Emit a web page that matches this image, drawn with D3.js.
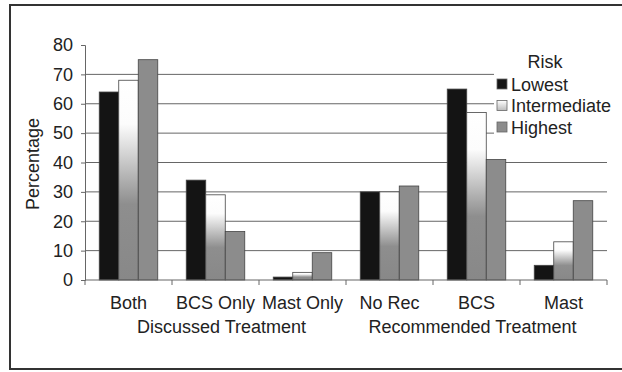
<!DOCTYPE html>
<html><head><meta charset="utf-8">
<script src="https://cdn.jsdelivr.net/npm/d3@7"></script>
<style>
html,body{margin:0;padding:0;background:#fff;}
svg{display:block;font-family:"Liberation Sans",Arial,sans-serif;}
</style></head>
<body>
<svg id="chart" width="622" height="372"></svg>
<script>
const categories = ["Both","BCS Only","Mast Only","No Rec","BCS","Mast"];
const groupTitles = ["Discussed Treatment","Recommended Treatment"];
const seriesNames = ["Lowest","Intermediate","Highest"];
const lowest = [64, 34, 1, 30, 65, 5];
const intermediate = [68, 29, 2.6, 30, 57, 13];
const highest = [75, 16.5, 9.3, 32, 41, 27];
const yTicks = [0,10,20,30,40,50,60,70,80];
const legendTitle = "Risk";
const yTitle = "Percentage";

(function(){
const series = [lowest, intermediate, highest];
const svg = d3.select("#chart");
const defs = svg.append("defs");
const g1 = defs.append("linearGradient").attr("id","gInt").attr("x1",0).attr("y1",0).attr("x2",0).attr("y2",1);
g1.append("stop").attr("offset","0%").attr("stop-color","#ffffff");
g1.append("stop").attr("offset","22%").attr("stop-color","#fcfcfc");
g1.append("stop").attr("offset","62%").attr("stop-color","#8e8e8e");
g1.append("stop").attr("offset","100%").attr("stop-color","#888888");
const g2 = defs.append("linearGradient").attr("id","gLeg").attr("x1",0).attr("y1",0).attr("x2",0).attr("y2",1);
g2.append("stop").attr("offset","0%").attr("stop-color","#ffffff");
g2.append("stop").attr("offset","100%").attr("stop-color","#bbbbbb");

const fills = ["#141414","url(#gInt)","#8c8c8c"];
const legFills = ["#141414","url(#gLeg)","#8c8c8c"];

// frame
svg.append("rect").attr("x",10).attr("y",5).attr("width",640).attr("height",364)
  .attr("fill","none").attr("stroke","#333").attr("stroke-width",2);

const pL = 85, pR = 607, pT = 45, pB = 280;
const x0 = d3.scaleBand().domain(categories).range([pL,pR]).paddingInner(0).paddingOuter(0);
const x1 = d3.scaleBand().domain(seriesNames).range([0,x0.bandwidth()]).paddingInner(0).paddingOuter(0.73);
const y = d3.scaleLinear().domain([0,80]).range([pB,pT]);

// gridlines
svg.append("g").selectAll("line").data(yTicks.filter(t=>t>0 && t<80)).join("line")
  .attr("x1",pL).attr("x2",pR).attr("y1",d=>y(d)).attr("y2",d=>y(d))
  .attr("stroke","#666").attr("stroke-width",1);

// legend background (covers gridlines)
svg.append("rect").attr("x",494).attr("y",44).attr("width",128).attr("height",96).attr("fill","#fff");

// bars
categories.forEach((c,ci)=>{
  series.forEach((s,si)=>{
    svg.append("rect")
      .attr("x",x0(c)+x1(seriesNames[si]))
      .attr("y",y(s[ci]))
      .attr("width",x1.bandwidth())
      .attr("height",pB-y(s[ci]))
      .attr("fill",fills[si])
      .attr("stroke","#444").attr("stroke-width",0.8);
  });
});

// y axis
const yAxis = d3.axisLeft(y).tickValues(yTicks).tickSize(4).tickPadding(8);
const ya = svg.append("g").attr("transform",`translate(${pL},0)`).call(yAxis);
ya.select(".domain").attr("stroke","#666");
ya.selectAll(".tick line").attr("stroke","#666");
ya.selectAll("text").attr("font-size",18).attr("fill","#222").attr("font-family","Liberation Sans, Arial, sans-serif");

// x axis
const xa = svg.append("g");
xa.append("line").attr("x1",pL).attr("x2",pR).attr("y1",pB).attr("y2",pB).attr("stroke","#666");
const bounds = categories.map(c=>x0(c)).concat([pR]);
xa.selectAll("line.t").data(bounds).join("line").attr("class","t")
  .attr("x1",d=>d).attr("x2",d=>d).attr("y1",pB).attr("y2",pB+5).attr("stroke","#666");
xa.selectAll("text.cat").data(categories).join("text").attr("class","cat")
  .attr("x",d=>x0(d)+x0.bandwidth()/2).attr("y",309)
  .attr("text-anchor","middle").attr("font-size",18).attr("fill","#222").text(d=>d);
const titleShift = [6, -4];
[0,1].forEach(gi=>{
  const cs = categories.slice(gi*3,gi*3+3);
  const cx = (x0(cs[0]) + x0(cs[2]) + x0.bandwidth())/2;
  xa.append("text").attr("x",cx+titleShift[gi]).attr("y",333).attr("text-anchor","middle")
    .attr("font-size",18).attr("fill","#222").text(groupTitles[gi]);
});

// y title
svg.append("text").attr("transform","translate(39,164) rotate(-90)")
  .attr("text-anchor","middle").attr("font-size",18).attr("fill","#222").text(yTitle);

// legend
svg.append("text").attr("x",545).attr("y",68).attr("text-anchor","middle")
  .attr("font-size",18).attr("fill","#222").text(legendTitle);
seriesNames.forEach((n,i)=>{
  const cy = 84 + i*21.5;
  svg.append("rect").attr("x",497).attr("y",cy-5).attr("width",10).attr("height",10)
    .attr("fill",legFills[i]).attr("stroke","#666").attr("stroke-width",0.8);
  svg.append("text").attr("x",511).attr("y",cy+6.5).attr("font-size",18).attr("fill","#222").text(n);
});
})();
</script>
</body></html>
